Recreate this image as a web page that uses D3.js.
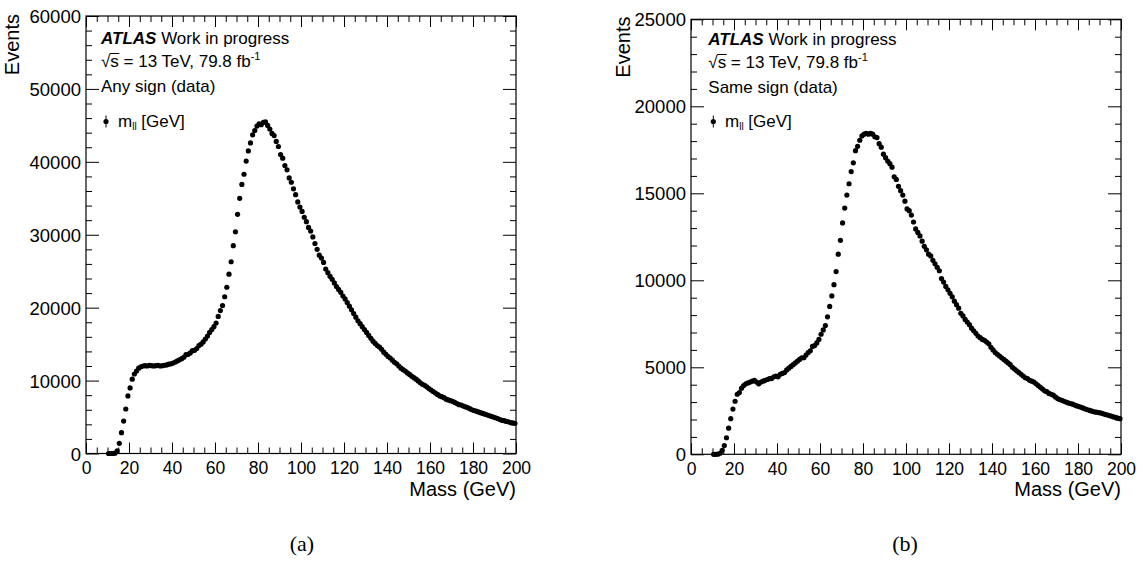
<!DOCTYPE html>
<html>
<head>
<meta charset="utf-8">
<script src="https://cdn.jsdelivr.net/npm/d3@7"></script>
<style>
  html, body { margin: 0; padding: 0; background: #fff; }
  svg { display: block; }
  text { font-family: "Liberation Sans", Arial, Helvetica, sans-serif; fill: #000; }
  text.caption { font-family: "Liberation Serif", "Times New Roman", serif; }
</style>
</head>
<body>
<svg id="chart" width="1143" height="561"></svg>
<script>
// ---------------- data ----------------
const massBins = [
  10.5, 11.5, 12.5, 13.5, 14.5, 15.5, 16.5, 17.5, 18.5, 19.5,
  20.5, 21.5, 22.5, 23.5, 24.5, 25.5, 26.5, 27.5, 28.5, 29.5,
  30.5, 31.5, 32.5, 33.5, 34.5, 35.5, 36.5, 37.5, 38.5, 39.5,
  40.5, 41.5, 42.5, 43.5, 44.5, 45.5, 46.5, 47.5, 48.5, 49.5,
  50.5, 51.5, 52.5, 53.5, 54.5, 55.5, 56.5, 57.5, 58.5, 59.5,
  60.5, 61.5, 62.5, 63.5, 64.5, 65.5, 66.5, 67.5, 68.5, 69.5,
  70.5, 71.5, 72.5, 73.5, 74.5, 75.5, 76.5, 77.5, 78.5, 79.5,
  80.5, 81.5, 82.5, 83.5, 84.5, 85.5, 86.5, 87.5, 88.5, 89.5,
  90.5, 91.5, 92.5, 93.5, 94.5, 95.5, 96.5, 97.5, 98.5, 99.5,
  100.5, 101.5, 102.5, 103.5, 104.5, 105.5, 106.5, 107.5, 108.5, 109.5,
  110.5, 111.5, 112.5, 113.5, 114.5, 115.5, 116.5, 117.5, 118.5, 119.5,
  120.5, 121.5, 122.5, 123.5, 124.5, 125.5, 126.5, 127.5, 128.5, 129.5,
  130.5, 131.5, 132.5, 133.5, 134.5, 135.5, 136.5, 137.5, 138.5, 139.5,
  140.5, 141.5, 142.5, 143.5, 144.5, 145.5, 146.5, 147.5, 148.5, 149.5,
  150.5, 151.5, 152.5, 153.5, 154.5, 155.5, 156.5, 157.5, 158.5, 159.5,
  160.5, 161.5, 162.5, 163.5, 164.5, 165.5, 166.5, 167.5, 168.5, 169.5,
  170.5, 171.5, 172.5, 173.5, 174.5, 175.5, 176.5, 177.5, 178.5, 179.5,
  180.5, 181.5, 182.5, 183.5, 184.5, 185.5, 186.5, 187.5, 188.5, 189.5,
  190.5, 191.5, 192.5, 193.5, 194.5, 195.5, 196.5, 197.5, 198.5, 199.5
];

const anySignEvents = [
  0, 0, 0, 50, 350, 1400, 2850, 4450, 6100, 7900,
  9000, 10200, 10900, 11300, 11700, 11900, 12000, 12050, 12000, 12100,
  12050, 12000, 12050, 12100, 12000, 12050, 12100, 12150, 12250, 12300,
  12400, 12550, 12700, 12850, 13000, 13200, 13550, 13600, 13800, 14100,
  14150, 14400, 14800, 15000, 15300, 15700, 16100, 16600, 17000, 17400,
  17900, 18800, 19600, 20300, 21500, 22800, 24600, 26300, 28500, 30400,
  32800, 35000, 36900, 38300, 40100, 41500, 42600, 43700, 44300, 44900,
  45200, 45100, 45400, 45500, 45000, 44500, 43900, 43600, 42800, 42100,
  41000, 40500, 39500, 38900, 37800, 37200, 36300, 35500, 34500, 33800,
  33200, 32400, 31800, 31000, 30500, 29700, 28800, 28000, 27200, 26800,
  26200, 25300, 24800, 24300, 23900, 23400, 22900, 22500, 22100, 21600,
  21200, 20700, 20200, 19700, 19200, 18700, 18200, 17800, 17400, 17000,
  16600, 16200, 15800, 15400, 15100, 14800, 14600, 14300, 13900, 13600,
  13300, 13100, 12800, 12500, 12300, 12000, 11700, 11500, 11300, 11050,
  10850, 10600, 10400, 10200, 9950, 9700, 9500, 9350, 9150, 8900,
  8700, 8500, 8300, 8100, 7900, 7800, 7650, 7450, 7350, 7250,
  7150, 7000, 6850, 6700, 6650, 6500, 6400, 6300, 6150, 6000,
  5900, 5800, 5700, 5600, 5500, 5400, 5300, 5200, 5100, 5000,
  4900, 4800, 4650, 4550, 4500, 4400, 4350, 4250, 4200, 4150
];

const sameSignEvents = [
  0, 0, 10, 60, 230, 500, 950, 1500, 2050, 2600,
  3050, 3450, 3550, 3800, 3950, 4050, 4100, 4150, 4200, 4250,
  4150, 4050, 4150, 4200, 4250, 4300, 4350, 4350, 4450, 4500,
  4450, 4600, 4650, 4700, 4850, 4950, 5050, 5150, 5250, 5350,
  5450, 5550, 5550, 5700, 5850, 5950, 6200, 6250, 6400, 6600,
  6900, 7150, 7400, 7900, 8500, 9100, 9750, 10500, 11500, 12300,
  13300, 14150, 14900, 15550, 16250, 16750, 17450, 17700, 18050, 18300,
  18400, 18450, 18400, 18450, 18400, 18250, 18200, 17850, 17650, 17250,
  17050, 16850, 16700, 16500, 15950, 15800, 15400, 15150, 14900, 14550,
  14100, 14000, 13750, 13350, 12950, 12750, 12550, 12250, 11950, 11750,
  11500, 11400, 11150, 10950, 10750, 10550, 10100, 9900, 9650, 9450,
  9250, 9050, 8800, 8600, 8400, 8100, 7950, 7750, 7600, 7450,
  7250, 7100, 6950, 6800, 6700, 6600, 6550, 6450, 6350, 6150,
  6000, 5850, 5750, 5650, 5550, 5450, 5350, 5250, 5150, 5000,
  4900, 4800, 4700, 4600, 4500, 4400, 4350, 4250, 4200, 4150,
  4050, 3950, 3850, 3750, 3650, 3600, 3500, 3450, 3400, 3300,
  3200, 3150, 3100, 3050, 3000, 2950, 2920, 2880, 2830, 2780,
  2740, 2700, 2650, 2600, 2560, 2520, 2480, 2440, 2420, 2400,
  2380, 2340, 2300, 2270, 2230, 2190, 2150, 2120, 2080, 2050
];

const xTickValues = [0, 20, 40, 60, 80, 100, 120, 140, 160, 180, 200];
const xTickLabels = ["0", "20", "40", "60", "80", "100", "120", "140", "160", "180", "200"];
const yTickValuesA = [0, 10000, 20000, 30000, 40000, 50000, 60000];
const yTickLabelsA = ["0", "10000", "20000", "30000", "40000", "50000", "60000"];
const yTickValuesB = [0, 5000, 10000, 15000, 20000, 25000];
const yTickLabelsB = ["0", "5000", "10000", "15000", "20000", "25000"];

const panelLabels = ["Any sign (data)", "Same sign (data)"];
const captions = ["(a)", "(b)"];

// ---------------- layout ----------------
const svg = d3.select("#chart");

const panels = [
  { values: anySignEvents, yMax: 60000, yTicks: yTickValuesA, yLabels: yTickLabelsA, yMinor: 2000,
    left: 86, right: 516, top: 16, bottom: 453.5,
    titleX: 18.5, titleEndY: 14, textX: 101, markerX: 106, legX: 112,
    lines: [44.3, 66.7, 91.7, 126.5], label: panelLabels[0], caption: captions[0], capX: 302 },
  { values: sameSignEvents, yMax: 25000, yTicks: yTickValuesB, yLabels: yTickLabelsB, yMinor: 1000,
    left: 691, right: 1121, top: 19.3, bottom: 454.3,
    titleX: 630, titleEndY: 16.5, textX: 708.3, markerX: 713.3, legX: 719,
    lines: [45, 67.7, 92.7, 126.5], label: panelLabels[1], caption: captions[1], capX: 905 }
];

function range(a, b, s) { return d3.range(a, b + s / 2, s); }

panels.forEach(p => {
  const g = svg.append("g");
  const x = d3.scaleLinear().domain([0, 200]).range([p.left, p.right]);
  const y = d3.scaleLinear().domain([0, p.yMax]).range([p.bottom, p.top]);

  const minorX = range(0, 200, 5).filter(v => v % 20 !== 0);
  const minorY = range(0, p.yMax, p.yMinor).filter(v => p.yTicks.indexOf(v) < 0);

  // bottom axis (major with labels)
  const xb = g.append("g").attr("transform", `translate(0,${p.bottom})`)
    .call(d3.axisBottom(x).tickValues(xTickValues).tickSize(-11)
      .tickFormat((d, i) => xTickLabels[i]));
  xb.selectAll("text").attr("y", 8.5).attr("font-size", 17.5);
  g.append("g").attr("transform", `translate(0,${p.bottom})`)
    .call(d3.axisBottom(x).tickValues(minorX).tickSize(-6).tickFormat(""));
  // top axis (ticks only)
  g.append("g").attr("transform", `translate(0,${p.top})`)
    .call(d3.axisTop(x).tickValues(xTickValues).tickSize(-11).tickFormat(""));
  g.append("g").attr("transform", `translate(0,${p.top})`)
    .call(d3.axisTop(x).tickValues(minorX).tickSize(-6).tickFormat(""));
  // left axis
  const yl = g.append("g").attr("transform", `translate(${p.left},0)`)
    .call(d3.axisLeft(y).tickValues(p.yTicks).tickSize(-13).tickPadding(5)
      .tickFormat((d, i) => p.yLabels[i]));
  yl.selectAll("text").attr("font-size", 18.5).attr("dy", "0.36em");
  g.append("g").attr("transform", `translate(${p.left},0)`)
    .call(d3.axisLeft(y).tickValues(minorY).tickSize(-6).tickFormat(""));
  // right axis
  g.append("g").attr("transform", `translate(${p.right},0)`)
    .call(d3.axisRight(y).tickValues(p.yTicks).tickSize(-13).tickFormat(""));
  g.append("g").attr("transform", `translate(${p.right},0)`)
    .call(d3.axisRight(y).tickValues(minorY).tickSize(-6).tickFormat(""));

  g.selectAll(".domain").remove();
  g.selectAll(".tick line").attr("stroke", "#000").attr("stroke-width", 1);

  // frame
  g.append("rect").attr("x", p.left).attr("y", p.top)
    .attr("width", p.right - p.left).attr("height", p.bottom - p.top)
    .attr("fill", "none").attr("stroke", "#000").attr("stroke-width", 1.2);

  // axis titles
  g.append("text").attr("x", p.right).attr("y", 495.5)
    .attr("text-anchor", "end").attr("font-size", 20).text("Mass (GeV)");
  g.append("text").attr("transform", `translate(${p.titleX},${p.titleEndY}) rotate(-90)`)
    .attr("text-anchor", "end").attr("font-size", 20).text("Events");

  // data points
  const pts = massBins.map((m, i) => ({ m: m, v: p.values[i] }));
  g.append("g").selectAll("circle").data(pts).join("circle")
    .attr("cx", d => x(d.m)).attr("cy", d => y(d.v)).attr("r", 2.6).attr("fill", "#000");

  // ATLAS label
  const t1 = g.append("text").attr("x", p.textX).attr("y", p.lines[0]).attr("font-size", 17);
  t1.append("tspan").attr("font-weight", "bold").attr("font-style", "italic").text("ATLAS");
  t1.append("tspan").text(" Work in progress");

  const t2 = g.append("text").attr("x", p.textX).attr("y", p.lines[1]).attr("font-size", 17);
  t2.append("tspan").text("\u221As = 13 TeV, 79.8 fb");
  t2.append("tspan").attr("font-size", 11).attr("dy", -7).text("-1");
  // overline for sqrt
  const tn = t2.node();
  const sx = tn.getStartPositionOfChar(1).x;
  const sw = tn.getSubStringLength(1, 1);
  g.append("line").attr("x1", sx - 0.5).attr("x2", sx + sw + 0.5)
    .attr("y1", p.lines[1] - 13.2).attr("y2", p.lines[1] - 13.2)
    .attr("stroke", "#000").attr("stroke-width", 1);

  g.append("text").attr("x", p.textX).attr("y", p.lines[2]).attr("font-size", 17).text(p.label);

  // legend
  const ly = p.lines[3] - 5;
  g.append("line").attr("x1", p.markerX).attr("x2", p.markerX)
    .attr("y1", ly - 6).attr("y2", ly + 6).attr("stroke", "#000").attr("stroke-width", 1);
  g.append("circle").attr("cx", p.markerX).attr("cy", ly).attr("r", 2.6).attr("fill", "#000");
  const t4 = g.append("text").attr("x", p.legX + 6).attr("y", p.lines[3]).attr("font-size", 17);
  t4.append("tspan").text("m");
  t4.append("tspan").attr("font-size", 10).attr("dy", 3).text("ll");
  t4.append("tspan").attr("dy", -3).text(" [GeV]");

  // caption
  g.append("text").attr("class", "caption").attr("x", p.capX).attr("y", 551)
    .attr("text-anchor", "middle").attr("font-size", 22)
    .text(p.caption);
});
</script>
</body>
</html>
